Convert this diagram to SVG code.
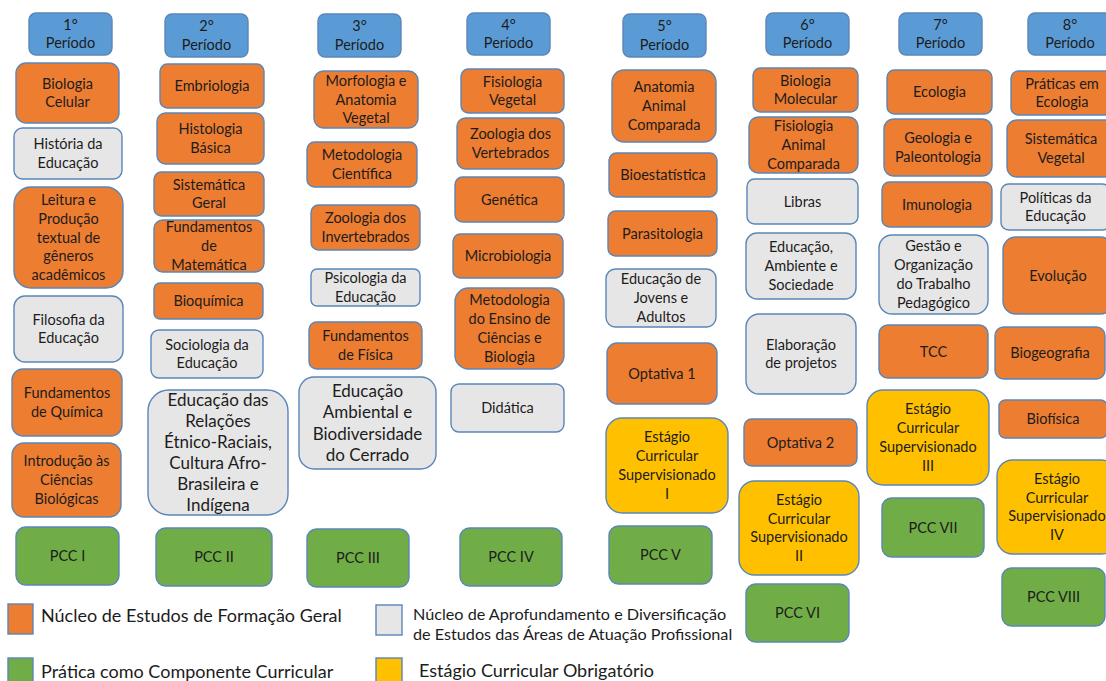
<svg xmlns="http://www.w3.org/2000/svg" width="1106" height="681" viewBox="0 0 1106 681">
<style>
g > rect{stroke:#5a86b8;stroke-width:1.4}
.o{fill:#ED7D31}.g{fill:#E7E6E6}.b{fill:#5B9BD5}.gr{fill:#70AD47}.y{fill:#FFC000}
.t{font-family:Lato,"Open Sans",sans-serif;font-size:14.5px;fill:#1c1c1c;text-anchor:middle}
.big{font-size:17px}
.lg{font-family:Lato,"Open Sans",sans-serif;fill:#1c1c1c}
</style>
<rect x="0" y="0" width="1106" height="681" fill="#fff"/>
<g id="connectors"/>
<!-- headers -->
<g id="h1"><rect class="b" x="29" y="13" width="83" height="42" rx="7"/><text class="t" y="29.6"><tspan x="70.5">1°</tspan><tspan x="70.5" dy="18.8">Período</tspan></text></g>
<g id="h2"><rect class="b" x="165" y="14" width="83" height="43" rx="7"/><text class="t" y="31.1"><tspan x="206.5">2°</tspan><tspan x="206.5" dy="18.8">Período</tspan></text></g>
<g id="h3"><rect class="b" x="318" y="14" width="83" height="43" rx="7"/><text class="t" y="31.1"><tspan x="359.5">3°</tspan><tspan x="359.5" dy="18.8">Período</tspan></text></g>
<g id="h4"><rect class="b" x="467" y="13" width="83" height="42" rx="7"/><text class="t" y="29.6"><tspan x="508.5">4°</tspan><tspan x="508.5" dy="18.8">Período</tspan></text></g>
<g id="h5"><rect class="b" x="623" y="14" width="83" height="43" rx="7"/><text class="t" y="31.1"><tspan x="664.5">5°</tspan><tspan x="664.5" dy="18.8">Período</tspan></text></g>
<g id="h6"><rect class="b" x="766" y="13" width="83" height="42" rx="7"/><text class="t" y="29.6"><tspan x="807.5">6°</tspan><tspan x="807.5" dy="18.8">Período</tspan></text></g>
<g id="h7"><rect class="b" x="899" y="13" width="83" height="42" rx="7"/><text class="t" y="29.6"><tspan x="940.5">7°</tspan><tspan x="940.5" dy="18.8">Período</tspan></text></g>
<g id="h8"><rect class="b" x="1028" y="13" width="84" height="42" rx="7"/><text class="t" y="29.6"><tspan x="1070">8°</tspan><tspan x="1070" dy="18.8">Período</tspan></text></g>
<!-- column 1 -->
<g id="biologia-celular"><rect class="o" x="16" y="63" width="103" height="60" rx="10"/><text class="t" y="88.6"><tspan x="67.5">Biologia</tspan><tspan x="67.5" dy="18.8">Celular</tspan></text></g>
<g id="historia-educacao"><rect class="g" x="14" y="128" width="108" height="51" rx="8.5"/><text class="t" y="149.1"><tspan x="68">História da</tspan><tspan x="68" dy="18.8">Educação</tspan></text></g>
<g id="leitura"><rect class="o" x="14" y="187" width="109" height="101" rx="17"/><text class="t" y="204.9"><tspan x="68.5">Leitura e</tspan><tspan x="68.5" dy="18.8">Produção</tspan><tspan x="68.5" dy="18.8">textual de</tspan><tspan x="68.5" dy="18.8">gêneros</tspan><tspan x="68.5" dy="18.8">acadêmicos</tspan></text></g>
<g id="filosofia"><rect class="g" x="14" y="296" width="109" height="66" rx="11"/><text class="t" y="324.6"><tspan x="68.5">Filosofia da</tspan><tspan x="68.5" dy="18.8">Educação</tspan></text></g>
<g id="fund-quimica"><rect class="o" x="12" y="369" width="110" height="67" rx="11"/><text class="t" y="398.1"><tspan x="67">Fundamentos</tspan><tspan x="67" dy="18.8">de Química</tspan></text></g>
<g id="introducao"><rect class="o" x="12" y="443" width="109" height="74" rx="12"/><text class="t" y="466.2"><tspan x="66.5">Introdução às</tspan><tspan x="66.5" dy="18.8">Ciências</tspan><tspan x="66.5" dy="18.8">Biológicas</tspan></text></g>
<g id="pcc1"><rect class="gr" x="16" y="527" width="103" height="58" rx="9.5"/><text class="t" x="67.5" y="561">PCC I</text></g>
<!-- column 2 -->
<g id="embriologia"><rect class="o" x="160" y="64" width="104" height="44" rx="7.3"/><text class="t" x="212" y="91">Embriologia</text></g>
<g id="histologia"><rect class="o" x="157" y="113" width="107" height="51" rx="8.5"/><text class="t" y="134.1"><tspan x="210.5">Histologia</tspan><tspan x="210.5" dy="18.8">Básica</tspan></text></g>
<g id="sistematica-geral"><rect class="o" x="154" y="172" width="110" height="44" rx="7.3"/><text class="t" y="189.6"><tspan x="209">Sistemática</tspan><tspan x="209" dy="18.8">Geral</tspan></text></g>
<g id="fund-matematica"><rect class="o" x="154" y="220" width="110" height="52" rx="8.7"/><text class="t" y="232.2"><tspan x="209">Fundamentos</tspan><tspan x="209" dy="18.8">de</tspan><tspan x="209" dy="18.8">Matemática</tspan></text></g>
<g id="bioquimica"><rect class="o" x="154" y="283" width="109" height="36" rx="6"/><text class="t" x="208.5" y="306">Bioquímica</text></g>
<g id="sociologia"><rect class="g" x="151" y="330" width="112" height="48" rx="8"/><text class="t" y="349.6"><tspan x="207">Sociologia da</tspan><tspan x="207" dy="18.8">Educação</tspan></text></g>
<g id="relacoes-etnico"><rect class="g" x="148" y="390" width="140" height="125" rx="21"/><text class="t big" y="406"><tspan x="218">Educação das</tspan><tspan x="218" dy="21">Relações</tspan><tspan x="218" dy="21">Étnico-Raciais,</tspan><tspan x="218" dy="21">Cultura Afro-</tspan><tspan x="218" dy="21">Brasileira e</tspan><tspan x="218" dy="21">Indígena</tspan></text></g>
<g id="pcc2"><rect class="gr" x="156" y="528" width="116" height="58" rx="9.5"/><text class="t" x="214" y="562">PCC II</text></g>
<!-- column 3 -->
<g id="morfologia"><rect class="o" x="314" y="71" width="104" height="57" rx="9.5"/><text class="t" y="85.7"><tspan x="366">Morfologia e</tspan><tspan x="366" dy="18.8">Anatomia</tspan><tspan x="366" dy="18.8">Vegetal</tspan></text></g>
<g id="metodologia-cientifica"><rect class="o" x="307" y="142" width="110" height="45" rx="7.5"/><text class="t" y="160.1"><tspan x="362">Metodologia</tspan><tspan x="362" dy="18.8">Científica</tspan></text></g>
<g id="zoologia-invertebrados"><rect class="o" x="311" y="205" width="109" height="45" rx="7.5"/><text class="t" y="223.1"><tspan x="365.5">Zoologia dos</tspan><tspan x="365.5" dy="18.8">Invertebrados</tspan></text></g>
<g id="psicologia"><rect class="g" x="311" y="269" width="109" height="37" rx="6"/><text class="t" y="283.1"><tspan x="365.5">Psicologia da</tspan><tspan x="365.5" dy="18.8">Educação</tspan></text></g>
<g id="fund-fisica"><rect class="o" x="309" y="322" width="113" height="47" rx="7.8"/><text class="t" y="341.1"><tspan x="365.5">Fundamentos</tspan><tspan x="365.5" dy="18.8">de Física</tspan></text></g>
<g id="educacao-ambiental"><rect class="g" x="299" y="377" width="137" height="92" rx="15"/><text class="t big" y="397"><tspan x="367.5">Educação</tspan><tspan x="367.5" dy="21.3">Ambiental e</tspan><tspan x="367.5" dy="21.3">Biodiversidade</tspan><tspan x="367.5" dy="21.3">do Cerrado</tspan></text></g>
<g id="pcc3"><rect class="gr" x="307" y="529" width="102" height="58" rx="9.5"/><text class="t" x="358" y="563">PCC III</text></g>
<!-- column 4 -->
<g id="fisiologia-vegetal"><rect class="o" x="461" y="69" width="103" height="44" rx="7.3"/><text class="t" y="86.6"><tspan x="512.5">Fisiologia</tspan><tspan x="512.5" dy="18.8">Vegetal</tspan></text></g>
<g id="zoologia-vertebrados"><rect class="o" x="457" y="118" width="107" height="51" rx="8.5"/><text class="t" y="139.1"><tspan x="510.5">Zoologia dos</tspan><tspan x="510.5" dy="18.8">Vertebrados</tspan></text></g>
<g id="genetica"><rect class="o" x="455" y="177" width="109" height="45" rx="7.5"/><text class="t" x="509.5" y="204.5">Genética</text></g>
<g id="microbiologia"><rect class="o" x="453" y="234" width="110" height="44" rx="7.3"/><text class="t" x="508" y="261">Microbiologia</text></g>
<g id="metodologia-ensino"><rect class="o" x="455" y="288" width="109" height="81" rx="13.5"/><text class="t" y="305.3"><tspan x="509.5">Metodologia</tspan><tspan x="509.5" dy="18.8">do Ensino de</tspan><tspan x="509.5" dy="18.8">Ciências e</tspan><tspan x="509.5" dy="18.8">Biologia</tspan></text></g>
<g id="didatica"><rect class="g" x="451" y="384" width="113" height="48" rx="8"/><text class="t" x="507.5" y="413">Didática</text></g>
<g id="pcc4"><rect class="gr" x="460" y="528" width="102" height="58" rx="9.5"/><text class="t" x="511" y="562">PCC IV</text></g>
<!-- column 5 -->
<g id="anatomia-animal"><rect class="o" x="612" y="70" width="104" height="72" rx="12"/><text class="t" y="92.2"><tspan x="664">Anatomia</tspan><tspan x="664" dy="18.8">Animal</tspan><tspan x="664" dy="18.8">Comparada</tspan></text></g>
<g id="bioestatistica"><rect class="o" x="609" y="153" width="108" height="44" rx="7.3"/><text class="t" x="663" y="180">Bioestatística</text></g>
<g id="parasitologia"><rect class="o" x="608" y="211" width="109" height="45" rx="7.5"/><text class="t" x="662.5" y="238.5">Parasitologia</text></g>
<g id="eja"><rect class="g" x="606" y="269" width="110" height="58" rx="9.5"/><text class="t" y="284.2"><tspan x="661">Educação de</tspan><tspan x="661" dy="18.8">Jovens e</tspan><tspan x="661" dy="18.8">Adultos</tspan></text></g>
<g id="optativa1"><rect class="o" x="607" y="343" width="110" height="61" rx="10"/><text class="t" x="662" y="378.5">Optativa 1</text></g>
<g id="estagio1"><rect class="y" x="606" y="418" width="122" height="95" rx="16"/><text class="t" y="442.3"><tspan x="667">Estágio</tspan><tspan x="667" dy="18.8">Curricular</tspan><tspan x="667" dy="18.8">Supervisionado</tspan><tspan x="667" dy="18.8">I</tspan></text></g>
<g id="pcc5"><rect class="gr" x="609" y="526" width="103" height="58" rx="9.5"/><text class="t" x="660.5" y="560">PCC V</text></g>
<!-- column 6 -->
<g id="biologia-molecular"><rect class="o" x="753" y="68" width="105" height="44" rx="7.3"/><text class="t" y="85.6"><tspan x="805.5">Biologia</tspan><tspan x="805.5" dy="18.8">Molecular</tspan></text></g>
<g id="fisiologia-animal"><rect class="o" x="749" y="117" width="109" height="56" rx="9.3"/><text class="t" y="131.2"><tspan x="803.5">Fisiologia</tspan><tspan x="803.5" dy="18.8">Animal</tspan><tspan x="803.5" dy="18.8">Comparada</tspan></text></g>
<g id="libras"><rect class="g" x="747" y="179" width="111" height="45" rx="7.5"/><text class="t" x="802.5" y="206.5">Libras</text></g>
<g id="educacao-ambiente-sociedade"><rect class="g" x="746" y="233" width="110" height="66" rx="11"/><text class="t" y="252.2"><tspan x="801">Educação,</tspan><tspan x="801" dy="18.8">Ambiente e</tspan><tspan x="801" dy="18.8">Sociedade</tspan></text></g>
<g id="elaboracao-projetos"><rect class="g" x="746" y="314" width="110" height="80" rx="13"/><text class="t" y="349.6"><tspan x="801">Elaboração</tspan><tspan x="801" dy="18.8">de projetos</tspan></text></g>
<g id="optativa2"><rect class="o" x="744" y="419" width="113" height="47" rx="7.8"/><text class="t" x="800.5" y="447.5">Optativa 2</text></g>
<g id="estagio2"><rect class="y" x="739" y="481" width="120" height="94" rx="15.5"/><text class="t" y="504.8"><tspan x="799">Estágio</tspan><tspan x="799" dy="18.8">Curricular</tspan><tspan x="799" dy="18.8">Supervisionado</tspan><tspan x="799" dy="18.8">II</tspan></text></g>
<g id="pcc6"><rect class="gr" x="746" y="584" width="103" height="58" rx="9.5"/><text class="t" x="797.5" y="618">PCC VI</text></g>
<!-- column 7 -->
<g id="ecologia"><rect class="o" x="887" y="70" width="105" height="44" rx="7.3"/><text class="t" x="939.5" y="97">Ecologia</text></g>
<g id="geologia"><rect class="o" x="884" y="119" width="108" height="57" rx="9.5"/><text class="t" y="143.1"><tspan x="938">Geologia e</tspan><tspan x="938" dy="18.8">Paleontologia</tspan></text></g>
<g id="imunologia"><rect class="o" x="882" y="182" width="110" height="45" rx="7.5"/><text class="t" x="937" y="209.5">Imunologia</text></g>
<g id="gestao"><rect class="g" x="879" y="235" width="109" height="79" rx="13"/><text class="t" y="251.3"><tspan x="933.5">Gestão e</tspan><tspan x="933.5" dy="18.8">Organização</tspan><tspan x="933.5" dy="18.8">do Trabalho</tspan><tspan x="933.5" dy="18.8">Pedagógico</tspan></text></g>
<g id="tcc"><rect class="o" x="879" y="325" width="109" height="53" rx="8.8"/><text class="t" x="933.5" y="356.5">TCC</text></g>
<g id="estagio3"><rect class="y" x="867" y="390" width="122" height="95" rx="16"/><text class="t" y="414.3"><tspan x="928">Estágio</tspan><tspan x="928" dy="18.8">Curricular</tspan><tspan x="928" dy="18.8">Supervisionado</tspan><tspan x="928" dy="18.8">III</tspan></text></g>
<g id="pcc7"><rect class="gr" x="882" y="498" width="102" height="59" rx="9.5"/><text class="t" x="933" y="532.5">PCC VII</text></g>
<!-- column 8 -->
<g id="praticas-ecologia"><rect class="o" x="1011" y="71" width="102" height="44" rx="7.3"/><text class="t" y="88.6"><tspan x="1062">Práticas em</tspan><tspan x="1062" dy="18.8">Ecologia</tspan></text></g>
<g id="sistematica-vegetal"><rect class="o" x="1007" y="120" width="108" height="57" rx="9.5"/><text class="t" y="144.1"><tspan x="1061">Sistemática</tspan><tspan x="1061" dy="18.8">Vegetal</tspan></text></g>
<g id="politicas"><rect class="g" x="1001" y="184" width="109" height="46" rx="7.6"/><text class="t" y="202.6"><tspan x="1055.5">Políticas da</tspan><tspan x="1055.5" dy="18.8">Educação</tspan></text></g>
<g id="evolucao"><rect class="o" x="1003" y="237" width="110" height="77" rx="12.8"/><text class="t" x="1058" y="280.5">Evolução</text></g>
<g id="biogeografia"><rect class="o" x="995" y="327" width="110" height="52" rx="8.7"/><text class="t" x="1050" y="358">Biogeografia</text></g>
<g id="biofisica"><rect class="o" x="999" y="400" width="108" height="38" rx="6.3"/><text class="t" x="1053" y="424">Biofísica</text></g>
<g id="estagio4"><rect class="y" x="997" y="460" width="120" height="94" rx="15.5"/><text class="t" y="483.8"><tspan x="1057">Estágio</tspan><tspan x="1057" dy="18.8">Curricular</tspan><tspan x="1057" dy="18.8">Supervisionado</tspan><tspan x="1057" dy="18.8">IV</tspan></text></g>
<g id="pcc8"><rect class="gr" x="1002" y="568" width="103" height="58" rx="9.5"/><text class="t" x="1053.5" y="602">PCC VIII</text></g>
<!-- legend -->
<g id="legend">
<rect class="o" x="8" y="604" width="25" height="30"/>
<text class="lg" x="41" y="622" font-size="18">Núcleo de Estudos de Formação Geral</text>
<rect class="g" x="376" y="605" width="26" height="30"/>
<text class="lg" x="413" y="620" font-size="16.2">Núcleo de Aprofundamento e Diversificação</text>
<text class="lg" x="413" y="640" font-size="16.2">de Estudos das Áreas de Atuação Profissional</text>
<rect class="gr" x="8" y="658" width="25" height="32"/>
<text class="lg" x="41" y="678" font-size="18">Prática como Componente Curricular</text>
<rect class="y" x="376" y="658" width="26" height="32"/>
<text class="lg" x="419" y="677" font-size="18">Estágio Curricular Obrigatório</text>
</g>
</svg>
